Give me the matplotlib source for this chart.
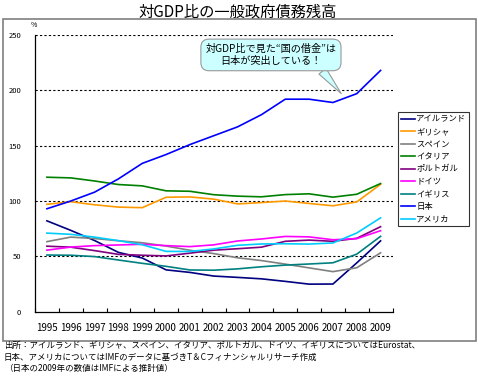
"""
対GDP比の一般政府債務残高 (1995-2009) の折れ線グラフを再現するスクリプト
"""

import matplotlib
matplotlib.use('Agg')
import matplotlib.pyplot as plt
from matplotlib.patches import Rectangle

plt.rcParams['font.family'] = ['Noto Sans CJK JP', 'DejaVu Sans']

# データ (%)
years = ['1995', '1996', '1997', '1998', '1999', '2000', '2001', '2002',
         '2003', '2004', '2005', '2006', '2007', '2008', '2009']
ireland = [82.1, 73.5, 64.3, 53.6, 48.5, 37.8, 35.5, 32.2, 31.0, 29.7, 27.4, 24.9, 25.0, 44.1, 64.0]
greece = [97.0, 99.4, 96.6, 94.5, 94.0, 103.4, 103.7, 101.7, 97.4, 98.6, 100.0, 97.8, 95.7, 99.2, 115.1]
spain = [63.3, 67.4, 66.1, 64.1, 62.3, 59.3, 55.5, 52.5, 48.7, 46.2, 43.0, 39.6, 36.2, 39.7, 53.2]
italy = [121.5, 120.9, 118.1, 114.9, 113.7, 109.2, 108.8, 105.7, 104.4, 103.8, 105.8, 106.5, 103.5, 106.1, 115.8]
portugal = [59.2, 58.3, 55.2, 51.8, 51.0, 50.4, 52.9, 55.6, 56.9, 58.3, 63.6, 64.7, 63.6, 66.3, 76.8]
germany = [55.6, 58.4, 59.7, 60.3, 60.9, 59.7, 58.8, 60.4, 63.9, 65.7, 68.0, 67.6, 65.0, 66.0, 73.2]
uk = [51.2, 51.0, 49.8, 46.7, 43.7, 41.0, 37.7, 37.5, 38.7, 40.6, 42.1, 43.1, 44.2, 52.0, 68.1]
japan = [93, 100, 108, 120, 134, 142, 151, 159, 167, 178, 192, 192, 189, 197, 218]
usa = [71.0, 69.9, 67.4, 64.2, 60.5, 54.5, 54.4, 56.7, 60.0, 61.2, 61.4, 61.1, 62.1, 71.1, 84.8]

series_names = ['アイルランド', 'ギリシャ', 'スペイン', 'イタリア', 'ポルトガル',
                'ドイツ', 'イギリス', '日本', 'アメリカ']
series_values = [ireland, greece, spain, italy, portugal, germany, uk, japan, usa]
colors = ['#000080', '#FF9900', '#808080', '#008000', '#800080',
          '#FF00FF', '#008080', '#0000FF', '#00CCFF']

y_ticks = [0, 50, 100, 150, 200, 250]

fig = plt.figure(figsize=(4.78, 3.78), dpi=100)

# 外枠
fig.patches.append(Rectangle((3 / 478, 1 - 341 / 378), 473 / 478, 322 / 378,
                             transform=fig.transFigure, fill=False,
                             edgecolor='#7f7f7f', linewidth=1.2))

fig.text(0.497, 1 - 12 / 378, '対GDP比の一般政府債務残高', ha='center', va='center',
         fontsize=11)

ax = fig.add_axes([35 / 478, 1 - 311.7 / 378, 357.5 / 478, 276.7 / 378])
x = list(range(len(years)))

# 点線のグリッド
for yv in y_ticks[1:]:
    ax.axhline(yv, color='black', linewidth=0.8, linestyle=(0, (2, 2)), zorder=1)

for name, vals, c in zip(series_names, series_values, colors):
    ax.plot(x, vals, color=c, linewidth=1.2, label=name, zorder=3)

ax.set_xlim(-0.5, len(years) - 0.5)
ax.set_ylim(0, 250)
ax.set_yticks(y_ticks)
ax.set_yticklabels([str(v) for v in y_ticks], fontsize=5.5)
ax.tick_params(axis='y', length=0, pad=10)
ax.set_xticks(x)
ax.set_xticklabels(years, fontsize=7)
ax.tick_params(axis='x', which='major', length=0, pad=8)
ax.set_xticks([i - 0.5 for i in range(len(years) + 1)], minor=True)
ax.tick_params(axis='x', which='minor', direction='in', length=3, width=0.8)
for s in ['top', 'right']:
    ax.spines[s].set_visible(False)
ax.spines['left'].set_linewidth(0.9)
ax.spines['bottom'].set_linewidth(0.9)

ax.text(-0.55, 255, '%', fontsize=5, ha='center', va='bottom')

# 吹き出し
ax.annotate('対GDP比で見た“国の借金”は\n日本が突出している！',
            xy=(12.35, 197), xytext=(9.4, 232),
            ha='center', va='center', fontsize=7.3, linespacing=1.3,
            bbox=dict(boxstyle='round,pad=0.45,rounding_size=0.8',
                      fc='#CCFFFF', ec='#999999', lw=0.8),
            arrowprops=dict(arrowstyle='wedge,tail_width=0.9', fc='#CCFFFF',
                            ec='#999999', lw=0.8, relpos=(0.84, 0.15),
                            shrinkA=0, shrinkB=0),
            zorder=5)

leg = fig.legend(loc='upper left', bbox_to_anchor=(398 / 478, 1 - 112 / 378),
                 fontsize=6.0, frameon=True, fancybox=False, edgecolor='black',
                 handlelength=1.7, handletextpad=0.2, labelspacing=0.42,
                 borderpad=0.3, borderaxespad=0)
leg.get_frame().set_linewidth(0.8)

fig.text(4 / 478, 1 - 345 / 378,
         '出所：アイルランド、ギリシャ、スペイン、イタリア、ポルトガル、ドイツ、イギリスについてはEurostat、',
         fontsize=6.1, va='center', ha='left')
fig.text(4 / 478, 1 - 357 / 378,
         '日本、アメリカについてはIMFのデータに基づきT＆Cフィナンシャルリサーチ作成',
         fontsize=6.1, va='center', ha='left')
fig.text(4 / 478, 1 - 369 / 378,
         '（日本の2009年の数値はIMFによる推計値）',
         fontsize=6.1, va='center', ha='left')

fig.savefig('out.png', dpi=100)
